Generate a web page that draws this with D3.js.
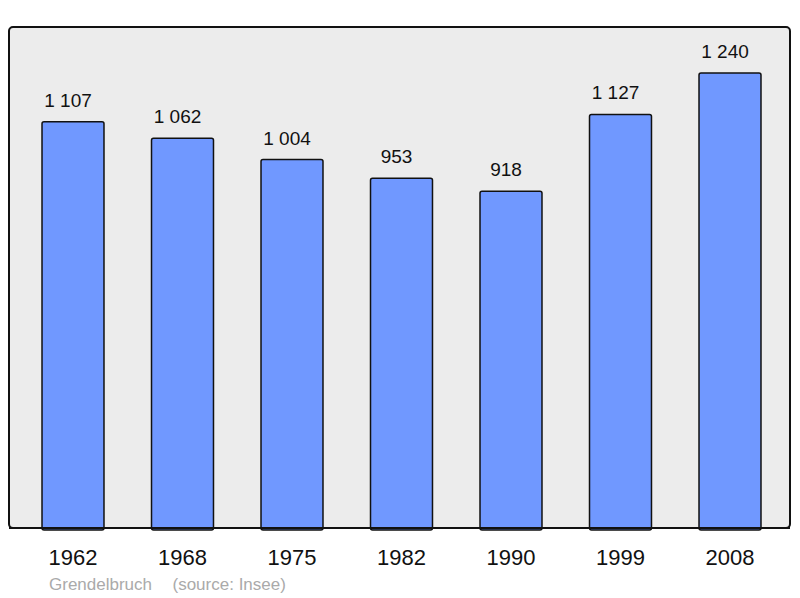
<!DOCTYPE html>
<html><head><meta charset="utf-8">
<script src="https://cdn.jsdelivr.net/npm/d3@7"></script>
<style>body{margin:0;background:#fff}svg{display:block}</style>
</head><body>
<script>
const years = ["1962","1968","1975","1982","1990","1999","2008"];
const population = [1107,1062,1004,953,918,1127,1240];
const valueLabels = ["1 107","1 062","1 004","953","918","1 127","1 240"];
const commune = "Grendelbruch";
const source = "(source: Insee)";

const W = 800, H = 598;
const svg = d3.select("body").append("svg").attr("width", W).attr("height", H);
const font = "'Liberation Sans', Arial, sans-serif";

svg.append("rect").attr("x", 9).attr("y", 27).attr("width", 781).attr("height", 501)
  .attr("rx", 4).attr("fill", "#ececec").attr("stroke", "#111").attr("stroke-width", 2);

const x = d3.scaleBand().domain(years).range([18.25, 784.75]).paddingInner(0.434).paddingOuter(0.217);
const y = d3.scaleLinear().domain([0, 1240]).range([528, 73]);

const data = years.map((yr, i) => ({yr, v: population[i], label: valueLabels[i]}));

svg.selectAll("rect.bar").data(data).enter().append("rect").attr("class", "bar")
  .attr("x", d => x(d.yr)).attr("y", d => y(d.v))
  .attr("width", x.bandwidth()).attr("height", d => y(0) - y(d.v) + 2)
  .attr("rx", 2).attr("fill", "#7098ff").attr("stroke", "#111").attr("stroke-width", 1.5);

svg.append("line").attr("x1", 9).attr("x2", 790).attr("y1", 528).attr("y2", 528)
  .attr("stroke", "#111").attr("stroke-width", 2);

svg.selectAll("text.val").data(data).enter().append("text").attr("class", "val")
  .attr("x", d => x(d.yr) + x.bandwidth() / 2 - 5).attr("y", d => y(d.v) - 15)
  .attr("text-anchor", "middle").attr("font-family", font).attr("font-size", 19)
  .attr("fill", "#111").text(d => d.label);

const xAxis = svg.append("g").attr("transform", "translate(0,528)")
  .call(d3.axisBottom(x).tickSize(0).tickPadding(0));
xAxis.select(".domain").remove();
xAxis.selectAll("text").attr("font-family", font).attr("font-size", 22).attr("fill", "#111")
  .attr("dy", 0).attr("y", 37);

svg.append("text").attr("x", 49).attr("y", 590).attr("font-family", font).attr("font-size", 17)
  .attr("fill", "#aaaaaa").text(commune);
svg.append("text").attr("x", 172.5).attr("y", 590).attr("font-family", font).attr("font-size", 17)
  .attr("fill", "#aaaaaa").text(source);
</script>
</body></html>
